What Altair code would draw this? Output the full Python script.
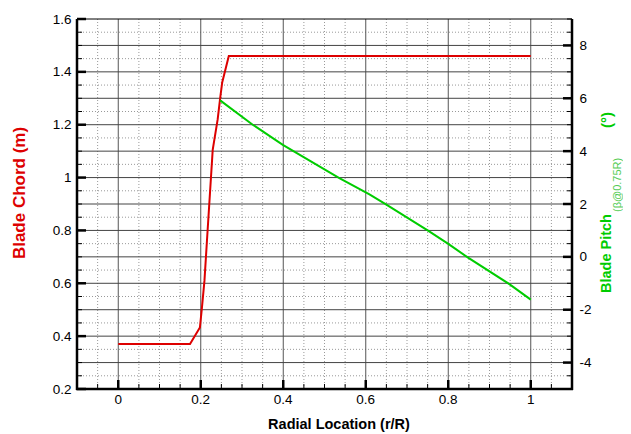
import altair as alt
import pandas as pd

# ---- data ----
r_chord = [0.0, 0.174, 0.198, 0.203, 0.209, 0.215, 0.229, 0.241, 0.247, 0.252, 0.268, 1.0]
chord = [0.37, 0.37, 0.433, 0.51, 0.61, 0.76, 1.105, 1.22, 1.30, 1.36, 1.46, 1.46]

r_pitch = [0.247, 0.326, 0.399, 0.536, 0.609, 0.650, 0.751, 0.801, 0.848, 0.949, 1.0]
pitch = [5.92, 5.0, 4.24, 2.98, 2.36, 1.98, 0.99, 0.48, -0.03, -1.04, -1.62]

x_labels = [0, 0.2, 0.4, 0.6, 0.8, 1]
x_label_text = ["0", "0.2", "0.4", "0.6", "0.8", "1"]
chord_labels = [0.2, 0.4, 0.6, 0.8, 1, 1.2, 1.4, 1.6]
pitch_labels = [-4, -2, 0, 2, 4, 6, 8]

W, H = 495, 370
XDOM = [-0.1, 1.1]
CDOM = [0.2, 1.6]
PDOM = [-5, 9]
FONT = "Liberation Sans"
RED = "#dd0000"
GREEN = "#00cc00"
LBL = 13.5


def steps(a, b, s):
    n = int(round((b - a) / s))
    return [round(a + i * s, 4) for i in range(n + 1)]


def is_mult(v, s):
    q = v / s
    return abs(q - round(q)) < 1e-6


def xs():
    return alt.Scale(domain=XDOM, nice=False, zero=False)


def cs():
    return alt.Scale(domain=CDOM, nice=False, zero=False)


def ps():
    return alt.Scale(domain=PDOM, nice=False, zero=False)


x_all = steps(-0.1, 1.1, 0.05)
x_solid = steps(0, 1, 0.2)
x_dotted = [v for v in x_all if not is_mult(v, 0.2) and -0.1 < v < 1.1]
h_solid = steps(0.3, 1.5, 0.1)
h_dotted = steps(0.25, 1.55, 0.1)
c_minor = steps(0.2, 1.6, 0.05)
p_minor = steps(-5, 9, 0.5)

one = pd.DataFrame({"a": [0]})


def df(vals):
    return pd.DataFrame({"v": vals})


def vrule(vals, **mk):
    return alt.Chart(df(vals)).mark_rule(**mk)


# vertical grid
vg_solid = vrule(x_solid, color="#555", strokeWidth=1).encode(
    x=alt.X("v:Q", scale=xs(), axis=None), y=alt.value(0), y2=alt.value(H))
vg_dot = vrule(x_dotted, color="#999", strokeWidth=1, strokeDash=[1, 2]).encode(
    x=alt.X("v:Q", scale=xs(), axis=None), y=alt.value(0), y2=alt.value(H))
# horizontal grid (chord scale)
hg_solid = vrule(h_solid, color="#444", strokeWidth=1).encode(
    y=alt.Y("v:Q", scale=cs(), axis=None), x=alt.value(0), x2=alt.value(W))
hg_dot = vrule(h_dotted, color="#999", strokeWidth=1, strokeDash=[1, 2]).encode(
    y=alt.Y("v:Q", scale=cs(), axis=None), x=alt.value(0), x2=alt.value(W))

# ticks
bt_major = vrule(x_labels, color="black", strokeWidth=2.5).encode(
    x=alt.X("v:Q", scale=xs(), axis=None), y=alt.value(H), y2=alt.value(H - 9))
bt_minor = vrule(x_all, color="black", strokeWidth=1).encode(
    x=alt.X("v:Q", scale=xs(), axis=None), y=alt.value(H), y2=alt.value(H - 5))
lt_major = vrule(chord_labels, color="black", strokeWidth=2.5).encode(
    y=alt.Y("v:Q", scale=cs(), axis=None), x=alt.value(0), x2=alt.value(9))
lt_minor = vrule(c_minor, color="black", strokeWidth=1).encode(
    y=alt.Y("v:Q", scale=cs(), axis=None), x=alt.value(0), x2=alt.value(5))
rt_major = vrule(pitch_labels, color="black", strokeWidth=2.5).encode(
    y=alt.Y("v:Q", scale=ps(), axis=None), x=alt.value(W), x2=alt.value(W - 9))
rt_minor = vrule(p_minor, color="black", strokeWidth=1).encode(
    y=alt.Y("v:Q", scale=ps(), axis=None), x=alt.value(W), x2=alt.value(W - 5))

# bottom tick labels
x_text = alt.Chart(pd.DataFrame({"v": x_labels, "t": x_label_text})).mark_text(
    font=FONT, fontSize=LBL, color="black", align="center", baseline="middle").encode(
    x=alt.X("v:Q", scale=xs(), axis=None), y=alt.value(H + 11), text="t:N")

# frame
frame_top = alt.Chart(one).mark_rule(color="black", strokeWidth=1).encode(
    x=alt.value(0), x2=alt.value(W), y=alt.value(0))
frame_bot = alt.Chart(one).mark_rule(color="black", strokeWidth=2.5).encode(
    x=alt.value(-1), x2=alt.value(W + 1), y=alt.value(H))
frame_left = alt.Chart(one).mark_rule(color="black", strokeWidth=2.5).encode(
    x=alt.value(0), y=alt.value(0), y2=alt.value(H + 1))
frame_right = alt.Chart(one).mark_rule(color="black", strokeWidth=2.5).encode(
    x=alt.value(W), y=alt.value(0), y2=alt.value(H + 1))

lab = dict(labelFont=FONT, labelFontSize=LBL, labelColor="black", grid=False,
           ticks=False, domain=False, title=None, labelFlush=False,
           labelOverlap=False)

red_line = alt.Chart(pd.DataFrame({"r": r_chord, "c": chord})).mark_line(
    color=RED, strokeWidth=2).encode(
    x=alt.X("r:Q", scale=xs(), axis=None),
    y=alt.Y("c:Q", scale=cs(), axis=alt.Axis(values=chord_labels, format="~g",
                                             orient="left", labelPadding=6, **lab)),
)

green_line = alt.Chart(pd.DataFrame({"r": r_pitch, "p": pitch})).mark_line(
    color=GREEN, strokeWidth=2).encode(
    x=alt.X("r:Q", scale=xs(), axis=None),
    y=alt.Y("p:Q", scale=ps(), axis=alt.Axis(
        values=pitch_labels, orient="right", format="d", labelPadding=7,
        labelExpr="replace(datum.label, '\u2212', '-')", **lab)),
)

# titles (as text)
t_left = alt.Chart(one).mark_text(
    text="Blade Chord (m)", font=FONT, fontSize=17, fontWeight="bold", color=RED,
    angle=270, align="center", baseline="alphabetic").encode(
    x=alt.value(-52), y=alt.value(174))
t_x = alt.Chart(one).mark_text(
    text="Radial Location (r/R)", font=FONT, fontSize=14.5, fontWeight="bold", color="black",
    align="center", baseline="alphabetic").encode(
    x=alt.value(262), y=alt.value(410))
t_r1 = alt.Chart(one).mark_text(
    text="Blade Pitch", font=FONT, fontSize=14.5, fontWeight="bold", color=GREEN,
    angle=270, align="left", baseline="alphabetic").encode(
    x=alt.value(534), y=alt.value(274))
t_r2 = alt.Chart(one).mark_text(
    text="(β@0.75R)", font=FONT, fontSize=11, color="#55cc55",
    angle=270, align="left", baseline="top").encode(
    x=alt.value(535), y=alt.value(193))
t_r3 = alt.Chart(one).mark_text(
    text="(°)", font=FONT, fontSize=15, fontWeight="bold", color=GREEN,
    angle=270, align="left", baseline="alphabetic").encode(
    x=alt.value(535), y=alt.value(109))

layers = [
    vg_dot, hg_dot, vg_solid, hg_solid, red_line,
    bt_minor, bt_major, lt_minor, lt_major,
    green_line, rt_minor, rt_major,
    frame_top, frame_bot, frame_left, frame_right,
    x_text, t_left, t_x, t_r1, t_r2, t_r3,
]

chart = alt.layer(*layers).resolve_scale(y="independent").properties(
    width=W, height=H,
    padding={"left": 69, "top": 11, "right": 51, "bottom": 45},
    autosize=alt.AutoSizeParams(type="none"),
    background="white",
).configure_view(stroke=None)

chart.save("out.html", embed_options={"renderer": "svg", "actions": False})
